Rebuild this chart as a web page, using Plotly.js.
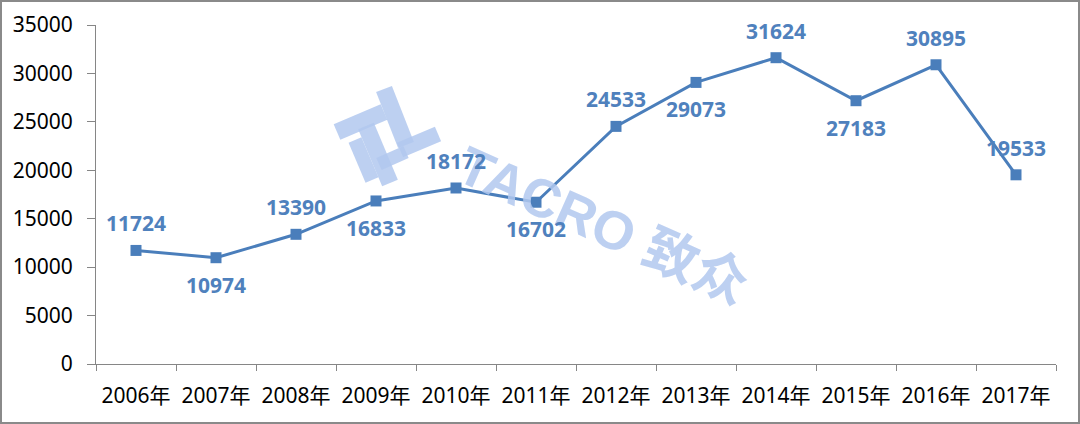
<!DOCTYPE html>
<html>
<head>
<meta charset="utf-8">
<script src="https://cdn.plot.ly/plotly-3.0.1.min.js"></script>
<style>
html,body{margin:0;padding:0;background:#fff;}
#chart{width:1080px;height:424px;box-sizing:border-box;border:2px solid #8a8a8a;}
</style>
</head>
<body>
<div id="chart"></div>
<script>
const years = ['2006年','2007年','2008年','2009年','2010年','2011年','2012年','2013年','2014年','2015年','2016年','2017年'];
const values = [11724, 10974, 13390, 16833, 18172, 16702, 24533, 29073, 31624, 27183, 30895, 19533];
const labelSide = ['above','below','above','below','above','below','above','below','above','below','above','above'];
const yTicks = [0, 5000, 10000, 15000, 20000, 25000, 30000, 35000];

const W = 1076, H = 420;
const M = {l: 94, r: 22, t: 23, b: 58};
const pw = W - M.l - M.r, ph = H - M.t - M.b;
// convert pixel (page) coords to paper coords for the watermark
function px(x){ return (x - 2 - M.l) / pw; }
function py(y){ return (H - M.b - (y - 2)) / ph; }

const lineColor = '#4a7ebb';
const labelColor = '#4f81bd';
const wm = 'rgba(178,200,238,0.85)';

const trace = {
  x: years, y: values, type: 'scatter', mode: 'lines+markers',
  line: {color: lineColor, width: 3},
  marker: {symbol: 'square', size: 11, color: lineColor},
  hoverinfo: 'skip', cliponaxis: false
};

const annotations = values.map((v, i) => ({
  x: years[i], y: v, xref: 'x', yref: 'y', text: String(v), showarrow: false,
  yshift: labelSide[i] === 'above' ? 27 : -27,
  font: {family: 'Noto Sans, Open Sans, sans-serif', size: 21, color: labelColor, weight: 'bold'}
}));

annotations.unshift({
  xref: 'paper', yref: 'paper', x: px(603), y: py(225), text: '<b>TACRO 致众</b>',
  showarrow: false, textangle: 24,
  font: {family: 'Liberation Sans, Noto Sans CJK SC, sans-serif', size: 54, color: wm}
});

function bar(x0, y0, x1, y1, w){
  return {type: 'line', xref: 'paper', yref: 'paper', x0: px(x0), y0: py(y0), x1: px(x1), y1: py(y1),
    line: {color: wm, width: w}, layer: 'below'};
}
const shapes = [
  bar(337, 132, 384, 112, 17),
  bar(366, 126, 390, 183, 17),
  bar(355, 140, 372, 180, 14),
  bar(384, 89, 406, 145, 17),
  bar(400, 150, 438, 134, 16),
  bar(379, 164, 406, 152, 13)
];

const layout = {
  width: W, height: H,
  margin: M,
  paper_bgcolor: '#ffffff', plot_bgcolor: '#ffffff',
  showlegend: false,
  font: {family: 'Noto Sans, Noto Sans CJK SC, sans-serif', size: 21, color: '#000'},
  xaxis: {
    type: 'category', tickson: 'boundaries', ticks: 'outside', ticklen: 6, tickcolor: '#868686',
    showline: true, linecolor: '#868686', linewidth: 1, showgrid: false, zeroline: false,
    tickfont: {family: 'Noto Sans, Noto Sans CJK SC, sans-serif', size: 21, color: '#000'},
    ticklabelstandoff: 13,
    range: [-0.5, 11.5], fixedrange: true
  },
  yaxis: {
    range: [0, 35000], tickvals: yTicks, ticktext: yTicks.map(String),
    ticks: 'outside', ticklen: 8, tickcolor: '#868686',
    showline: true, linecolor: '#868686', linewidth: 1, showgrid: false, zeroline: false,
    tickfont: {family: 'Noto Sans, sans-serif', size: 21, color: '#000'},
    ticklabelstandoff: 10, fixedrange: true
  },
  annotations: annotations,
  shapes: shapes
};

Plotly.newPlot('chart', [trace], layout, {displayModeBar: false, staticPlot: true});
</script>
</body>
</html>
